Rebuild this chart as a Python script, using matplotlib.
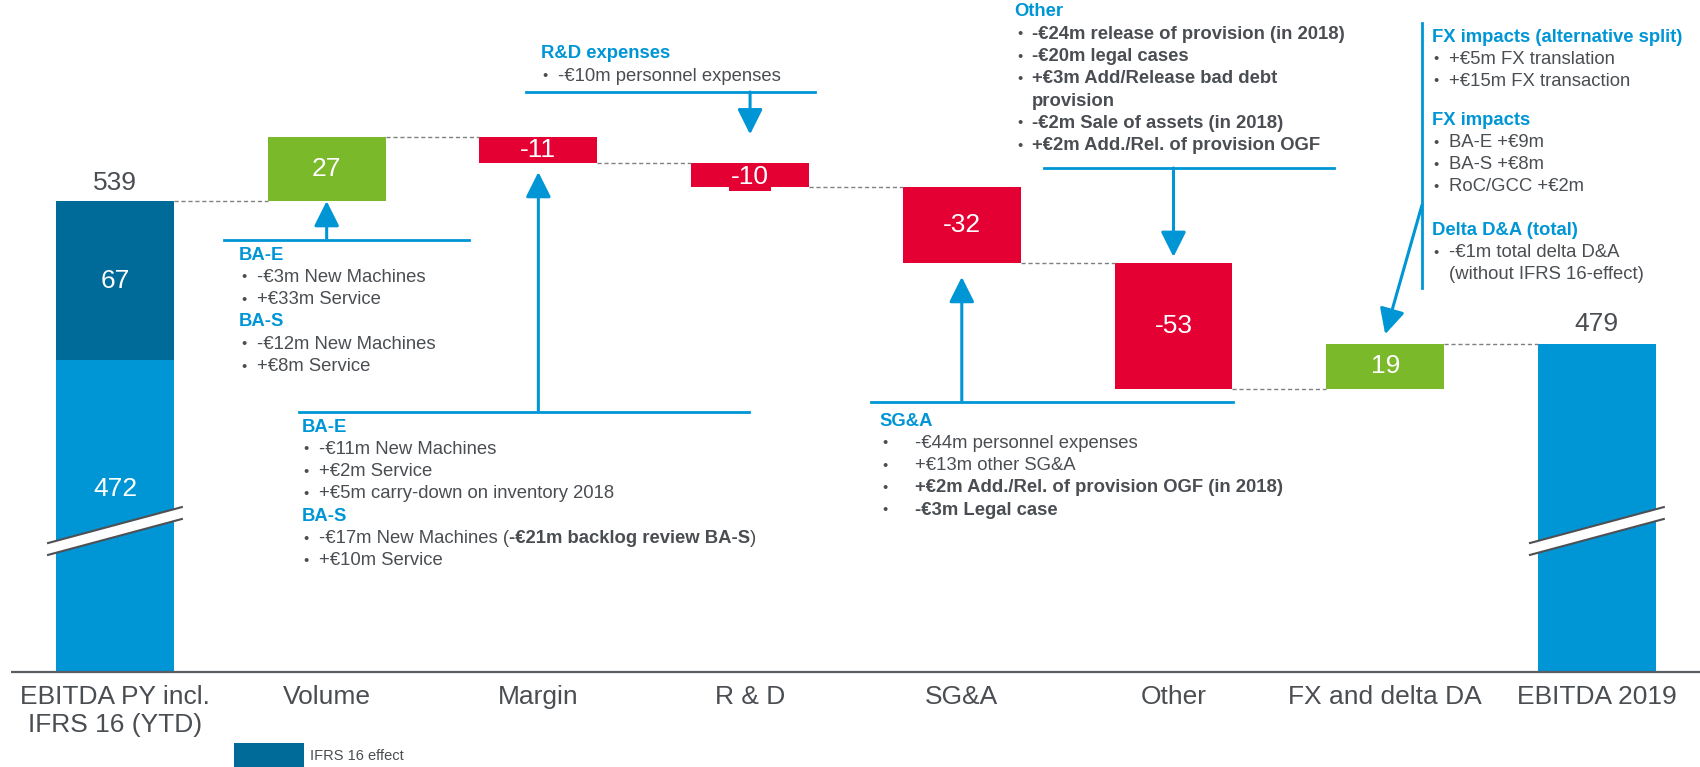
import matplotlib
matplotlib.use('Agg')
import matplotlib.pyplot as plt
from matplotlib.patches import Polygon, Rectangle

plt.rcParams['font.family'] = ['Liberation Sans', 'DejaVu Sans']

# --- data -------------------------------------------------------------
categories = ['EBITDA PY incl.\nIFRS 16 (YTD)', 'Volume', 'Margin', 'R & D',
              'SG&A', 'Other', 'FX and delta DA', 'EBITDA 2019']
py_base = 472          # EBITDA PY without IFRS 16
ifrs16_effect = 67     # IFRS 16 effect on top
deltas = [27, -11, -10, -32, -53, 19]
ebitda_2019 = 479

volume_notes = [
    ('head', 'BA-E', 'bold'),
    ('item', '-€3m New Machines', 'normal'),
    ('item', '+€33m Service', 'normal'),
    ('head', 'BA-S', 'bold'),
    ('item', '-€12m New Machines', 'normal'),
    ('item', '+€8m Service', 'normal'),
]
margin_notes = [
    ('head', 'BA-E', 'bold'),
    ('item', '-€11m New Machines', 'normal'),
    ('item', '+€2m Service', 'normal'),
    ('item', '+€5m carry-down on inventory 2018', 'normal'),
    ('head', 'BA-S', 'bold'),
    ('item', [('-€17m New Machines (', 'normal'),
              ('-€21m backlog review BA-S', 'bold'), (')', 'normal')], None),
    ('item', '+€10m Service', 'normal'),
]
rd_notes = [
    ('head', 'R&D expenses', 'bold'),
    ('item', '-€10m personnel expenses', 'normal'),
]
sga_notes = [
    ('head', 'SG&A', 'bold'),
    ('item', '-€44m personnel expenses', 'normal'),
    ('item', '+€13m other SG&A', 'normal'),
    ('item', '+€2m Add./Rel. of provision OGF (in 2018)', 'bold'),
    ('item', '-€3m Legal case', 'bold'),
]
other_notes = [
    ('head', 'Other', 'bold'),
    ('item', '-€24m release of provision (in 2018)', 'bold'),
    ('item', '-€20m legal cases', 'bold'),
    ('item', '+€3m Add/Release bad debt', 'bold'),
    ('cont', 'provision', 'bold'),
    ('item', '-€2m Sale of assets (in 2018)', 'bold'),
    ('item', '+€2m Add./Rel. of provision OGF', 'bold'),
]
fx_notes = [
    ('head', 'FX impacts (alternative split)', 'bold'),
    ('item', '+€5m FX translation', 'normal'),
    ('item', '+€15m FX transaction', 'normal'),
    ('gap', 0.8, None),
    ('head', 'FX impacts', 'bold'),
    ('item', 'BA-E +€9m', 'normal'),
    ('item', 'BA-S +€8m', 'normal'),
    ('item', 'RoC/GCC +€2m', 'normal'),
    ('gap', 1.0, None),
    ('head', 'Delta D&A (total)', 'bold'),
    ('item', '-€1m total delta D&A', 'normal'),
    ('cont', '(without IFRS 16-effect)', 'normal'),
]

# --- style ------------------------------------------------------------
LIGHT = '#0096D6'
DARK = '#006A98'
GREEN = '#7AB929'
RED = '#E40032'
TEXT = '#4A4E52'
LINE_BLUE = '#0096D6'

W, H = 1700, 767
fig = plt.figure(figsize=(W / 100, H / 100), dpi=100)
ax = fig.add_axes([0, 0, 1, 1])
floor = 341.1                      # broken axis: visible bottom of the bars
ax.set_xlim(-0.543, 7.487)
ax.set_ylim(301.2, 623.45)
ax.axis('off')
renderer = fig.canvas.get_renderer()


def P(x, y):
    # pixel position (from top-left) -> axes fraction
    return x / W, 1 - y / H


width = 0.557
start = py_base + ifrs16_effect

# start bar (stacked)
ax.bar(0, py_base - floor, bottom=floor, width=width, color=LIGHT)
ax.bar(0, ifrs16_effect, bottom=py_base, width=width, color=DARK)

# floating bars
levels = [start]
for i, d in enumerate(deltas, start=1):
    prev = levels[-1]
    ax.bar(i, abs(d), bottom=min(prev, prev + d), width=width,
           color=GREEN if d > 0 else RED)
    levels.append(prev + d)

# end bar
ax.bar(7, ebitda_2019 - floor, bottom=floor, width=width, color=LIGHT)

# dashed connectors
for i, lv in enumerate(levels):
    ax.plot([i + width / 2, i + 1 - width / 2], [lv, lv], ls=(0, (3, 2)),
            color='#808080', lw=1)

# baseline
ax.plot([-0.49, 7.49], [floor, floor], color='#5a5e62', lw=1.6, solid_capstyle='butt')

# axis break marks
for xb in (0, 7):
    hw = 0.316
    y1, y2, gap = 395.3, 410.4, 5.0
    ax.add_patch(Polygon([(xb - hw, y1), (xb + hw, y2), (xb + hw, y2 - gap), (xb - hw, y1 - gap)],
                         closed=True, fc='white', ec='none', zorder=3))
    ax.plot([xb - hw, xb + hw], [y1, y2], color='#4d5054', lw=1.5, zorder=4)
    ax.plot([xb - hw, xb + hw], [y1 - gap, y2 - gap], color='#4d5054', lw=1.5, zorder=4)

# value labels
lab = dict(fontsize=19, ha='center', va='center')
ax.text(0, start + 7.5, f'{start}', color=TEXT, **lab)
ax.text(7, ebitda_2019 + 8.5, f'{ebitda_2019}', color=TEXT, **lab)
ax.text(0, py_base + ifrs16_effect / 2, f'{ifrs16_effect}', color='white', **lab)
ax.text(0, py_base - 54, f'{py_base}', color='white', **lab)
for i, d in enumerate(deltas, start=1):
    mid = levels[i - 1] + d / 2
    txt = f'{d}'
    if abs(d) < 11:
        ax.text(i, mid - 0.8, txt, color='white', zorder=5,
                bbox=dict(boxstyle='square,pad=0.08', fc=RED, ec='none'), **lab)
    else:
        ax.text(i, mid, txt, color='white', **lab)

# category labels
for i, c in enumerate(categories):
    ax.text(i, P(0, 685)[1], c, transform=ax.get_xaxis_transform(), ha='center', va='top',
            fontsize=19, color=TEXT, linespacing=1.2)

# legend
ax.add_patch(Rectangle(P(234, 767), 70 / W, 24 / H, transform=ax.transAxes,
                       fc=DARK, ec='none', clip_on=False))
ax.text(*P(310, 756), 'IFRS 16 effect', transform=ax.transAxes, fontsize=10.5,
        color=TEXT, va='center', ha='left')


# --- annotation helpers ----------------------------------------------
def draw_parts(x, y, parts, size=13.3):
    for s, w in parts:
        t = ax.text(*P(x, y), s, transform=ax.transAxes, fontsize=size,
                    fontweight=w, color=TEXT, va='center', ha='left')
        x += t.get_window_extent(renderer).width


def draw_notes(notes, x_head, x_bullet, x_text, y_top, step=22.3, size=13.3):
    y = y_top
    for kind, content, weight in notes:
        if kind == 'gap':
            y += step * content
            continue
        if kind == 'head':
            ax.text(*P(x_head, y), content, transform=ax.transAxes, fontsize=size,
                    fontweight='bold', color=LINE_BLUE, va='center', ha='left')
        else:
            if kind == 'item':
                ax.text(*P(x_bullet, y), '•', transform=ax.transAxes, fontsize=size * 0.8,
                        color=TEXT, va='center', ha='left')
            parts = content if isinstance(content, list) else [(content, weight)]
            draw_parts(x_text, y, parts, size)
        y += step


def hline(x0, x1, y):
    ax.plot([x0 / W, x1 / W], [1 - y / H] * 2, transform=ax.transAxes,
            color=LINE_BLUE, lw=2)


arrow = dict(arrowstyle='-|>,head_length=0.7,head_width=0.35', color=LINE_BLUE,
             lw=2.2, shrinkA=0, shrinkB=0, mutation_scale=22)
xax = ax.get_xaxis_transform()


def vert_arrow(i, y_line, tip):
    ax.annotate('', xy=(i, tip), xycoords='data', xytext=(i, 1 - y_line / H),
                textcoords=xax, arrowprops=arrow)


# Volume
hline(224, 469, 240)
vert_arrow(1, 240, levels[0])
draw_notes(volume_notes, 239, 241, 257, 255)

# Margin
hline(299, 749, 412)
vert_arrow(2, 412, levels[2] - 3.8)
draw_notes(margin_notes, 302, 303, 319, 427)

# R&D
hline(526, 815, 92)
vert_arrow(3, 92, levels[2] + 12)
draw_notes(rd_notes, 541, 542, 558, 54)

# SG&A
hline(871, 1233, 402)
vert_arrow(4, 402, levels[4] - 5.9)
draw_notes(sga_notes, 879, 882, 915, 421)

# Other
hline(1044, 1334, 168)
vert_arrow(5, 168, levels[4] + 2.5)
draw_notes(other_notes, 1014, 1017, 1032, 12)

# FX and delta DA
ax.plot([1422 / W] * 2, [1 - 23 / H, 1 - 288 / H], transform=ax.transAxes,
        color=LINE_BLUE, lw=2)
ax.annotate('', xy=(6, ebitda_2019 + 4), xycoords='data', xytext=P(1422, 205),
            textcoords='axes fraction', arrowprops=arrow)
draw_notes(fx_notes, 1432, 1433, 1449, 37, step=22.0)

fig.savefig('out.png', dpi=100)
